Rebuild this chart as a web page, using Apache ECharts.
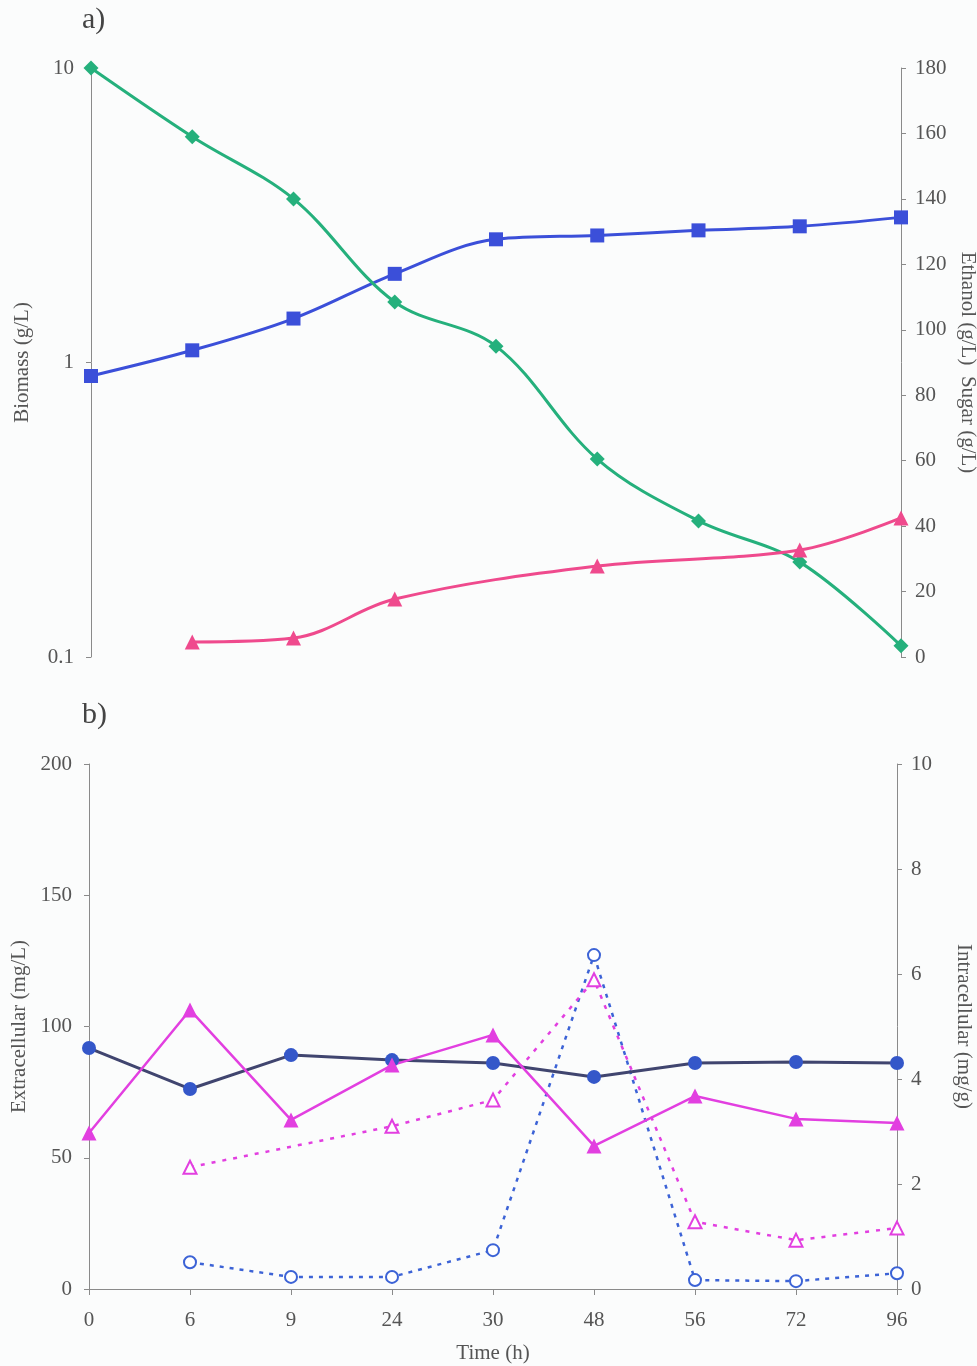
<!DOCTYPE html>
<html>
<head>
<meta charset="utf-8">
<script src="https://cdn.jsdelivr.net/npm/echarts@6/dist/echarts.min.js"></script>
<style>
html,body{margin:0;padding:0;background:#fbfcfc;}
#c{width:977px;height:1366px;}
</style>
</head>
<body>
<div id="c"></div>
<script>
// Categories (time, h)
const timeLabels = ['0','6','9','24','30','48','56','72','96'];

// Panel a
const biomass = [0.90, 1.10, 1.41, 2.00, 2.62, 2.70, 2.81, 2.90, 3.11];      // g/L, log left axis
const sugar   = [180, 159, 140, 108.5, 95, 60.5, 41.6, 29, 3.4];             // g/L, right axis
const ethanol = [null, 4.6, 5.8, 17.7, null, 27.8, null, 32.7, 42.5];        // g/L, right axis

// Panel b
const extraBlue    = [91.8, 76.2, 89.1, 87.2, 86.1, 80.8, 86.1, 86.5, 86.1]; // mg/L
const extraMagenta = [59.4, 106.3, 64.4, 85.3, 96.8, 54.5, 73.5, 64.8, 63.2]; // mg/L
const intraMagenta = [null, 2.32, null, 3.10, 3.60, 5.89, 1.28, 0.93, 1.16]; // mg/g
const intraBlue    = [null, 0.51, 0.23, 0.23, 0.74, 6.36, 0.17, 0.15, 0.30]; // mg/g

// Tick labels
const leftTicksA = [0.1, 1, 10];

const FONT = 'Liberation Serif';
const TXT = '#555';
const AX = '#8a8a8a';
const FS = 21;

const chart = echarts.init(document.getElementById('c'), null, {renderer:'canvas'});

const axisCommon = {
  axisLine:{show:true, lineStyle:{color:AX, width:1}},
  axisTick:{show:true, length:5, lineStyle:{color:AX}},
  splitLine:{show:false},
  axisLabel:{fontFamily:FONT, fontSize:FS, color:TXT},
  nameTextStyle:{fontFamily:FONT, fontSize:FS, color:TXT}
};

chart.setOption({
  backgroundColor:'#fbfcfc',
  animation:false,
  textStyle:{fontFamily:FONT},
  graphic:[
    {type:'text', left:82, top:5, style:{text:'a)', font:'30px "Liberation Serif"', fill:'#444'}},
    {type:'text', left:82, top:700, style:{text:'b)', font:'30px "Liberation Serif"', fill:'#444'}}
  ],
  grid:[
    {left:91, width:810, top:68, height:589, containLabel:false, outerBoundsMode:'none'},
    {left:89, width:808, top:764, height:525, containLabel:false, outerBoundsMode:'none'}
  ],
  xAxis:[
    {type:'category', gridIndex:0, data:timeLabels, boundaryGap:false, show:false},
    Object.assign({}, axisCommon, {
      type:'category', gridIndex:1, data:timeLabels, boundaryGap:false,
      axisTick:{show:true, length:6, alignWithLabel:true, lineStyle:{color:AX}},
      axisLabel:{fontFamily:FONT, fontSize:FS, color:TXT, margin:21},
      name:'Time (h)', nameLocation:'middle', nameGap:54
    })
  ],
  yAxis:[
    Object.assign({}, axisCommon, {
      type:'log', gridIndex:0, logBase:10, min:leftTicksA[0], max:leftTicksA[2],
      axisLabel:{fontFamily:FONT, fontSize:FS, color:TXT, margin:17,
        formatter:function(v){ return leftTicksA.indexOf(+(+v).toPrecision(3))>=0 ? String(+(+v).toPrecision(3)) : ''; }},
      name:'Biomass (g/L)', nameLocation:'middle', nameGap:58, nameRotate:90
    }),
    Object.assign({}, axisCommon, {
      type:'value', gridIndex:0, position:'right', min:0, max:180, interval:20,
      axisLabel:{fontFamily:FONT, fontSize:FS, color:TXT, margin:14},
      name:'Ethanol (g/L)  Sugar (g/L)', nameLocation:'middle', nameGap:55, nameRotate:-90
    }),
    Object.assign({}, axisCommon, {
      type:'value', gridIndex:1, min:0, max:200, interval:50,
      axisLabel:{fontFamily:FONT, fontSize:FS, color:TXT, margin:17},
      name:'Extracellular (mg/L)', nameLocation:'middle', nameGap:57, nameRotate:90
    }),
    Object.assign({}, axisCommon, {
      type:'value', gridIndex:1, position:'right', min:0, max:10, interval:2,
      axisLabel:{fontFamily:FONT, fontSize:FS, color:TXT, margin:14},
      name:'Intracellular (mg/g)', nameLocation:'middle', nameGap:56, nameRotate:-90
    })
  ],
  series:[
    {type:'line', name:'Biomass', xAxisIndex:0, yAxisIndex:0, data:biomass, smooth:0.35,
      symbol:'rect', symbolSize:14, itemStyle:{color:'#3b4fd9'}, lineStyle:{color:'#3b4fd9', width:3}},
    {type:'line', name:'Sugar', xAxisIndex:0, yAxisIndex:1, data:sugar, smooth:0.35,
      symbol:'diamond', symbolSize:15, itemStyle:{color:'#25b07c'}, lineStyle:{color:'#25b07c', width:3}},
    {type:'line', name:'Ethanol', xAxisIndex:0, yAxisIndex:1, data:ethanol, smooth:0.35, connectNulls:true,
      symbol:'triangle', symbolSize:15, itemStyle:{color:'#ef4a8d'}, lineStyle:{color:'#ef4a8d', width:3}},

    {type:'line', name:'Intra blue', xAxisIndex:1, yAxisIndex:3, data:intraBlue, connectNulls:true,
      symbol:'emptyCircle', symbolSize:12, itemStyle:{color:'#3c63d6', borderWidth:2.5},
      lineStyle:{color:'#3c63d6', width:2.5, type:[4,6]}},
    {type:'line', name:'Intra magenta', xAxisIndex:1, yAxisIndex:3, data:intraMagenta, connectNulls:true,
      symbol:'emptyTriangle', symbolSize:13, itemStyle:{color:'#e23fe0', borderWidth:2.5},
      lineStyle:{color:'#e23fe0', width:2.5, type:[4,7]}},
    {type:'line', name:'Extra blue', xAxisIndex:1, yAxisIndex:2, data:extraBlue,
      symbol:'circle', symbolSize:14, itemStyle:{color:'#3457c9'}, lineStyle:{color:'#40456f', width:3}},
    {type:'line', name:'Extra magenta', xAxisIndex:1, yAxisIndex:2, data:extraMagenta,
      symbol:'triangle', symbolSize:15, itemStyle:{color:'#e23fe0'}, lineStyle:{color:'#e23fe0', width:2.5}}
  ]
});
</script>
</body>
</html>
